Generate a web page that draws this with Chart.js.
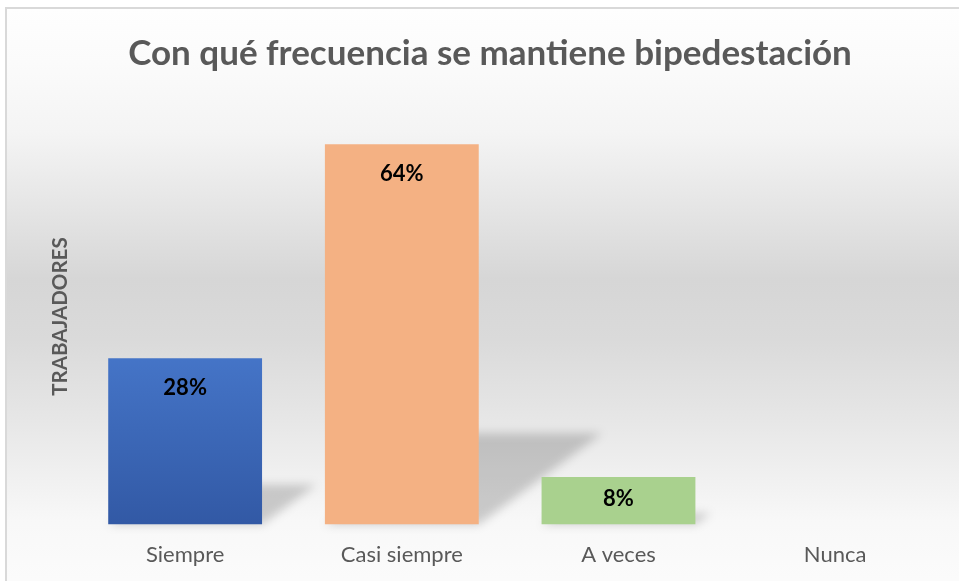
<!DOCTYPE html>
<html>
<head>
<meta charset="utf-8">
<script src="https://cdn.jsdelivr.net/npm/chart.js@4"></script>
<style>
html,body{margin:0;padding:0;overflow:hidden;background:#fff;}
#box{position:absolute;left:5px;top:7px;width:970px;height:590px;border:2px solid #d9d9d9;}
</style>
</head>
<body>
<div id="box"><canvas id="chart" width="964" height="590"></canvas></div>
<script>

// Data
const categories = ["Siempre", "Casi siempre", "A veces", "Nunca"];
const percentages = [28, 64, 8, 0];
const chartTitle = "Con qué frecuencia se mantiene bipedestación";
const axisTitle = "TRABAJADORES";

const canvas = document.getElementById("chart");
const ctx = canvas.getContext("2d");

// blue bar gradient
const blueGrad = ctx.createLinearGradient(0, 345, 0, 515);
blueGrad.addColorStop(0, "#4575c8");
blueGrad.addColorStop(1, "#3259a5");

// background + shadows + labels
const decor = {

    id: "decor",

    beforeDraw(chart){

        const c = chart.ctx;
        const h = chart.height;

        const g = c.createLinearGradient(0, 0, 0, h);
        g.addColorStop(0, "#fefefe");
        g.addColorStop(0.09, "#fbfbfb");
        g.addColorStop(0.21, "#f4f4f4");
        g.addColorStop(0.33, "#e6e6e6");
        g.addColorStop(0.46, "#d6d6d6");
        g.addColorStop(0.56, "#dadada");
        g.addColorStop(0.67, "#e4e4e4");
        g.addColorStop(0.79, "#f0f0f0");
        g.addColorStop(0.87, "#f8f8f8");
        g.addColorStop(1, "#fcfcfc");

        c.save();
        c.fillStyle = g;
        c.fillRect(0, 0, chart.width, h);
        c.restore();
    },

    beforeDatasetsDraw(chart){

        const c = chart.ctx;
        const bars = chart.getDatasetMeta(0).data;

        c.save();
        c.filter = "blur(5px)";
        c.fillStyle = "rgba(0,0,0,0.18)";

        bars.forEach(function(bar){

            const hgt = bar.base - bar.y;
            if(hgt <= 0) return;

            const dy = hgt * 0.24;
            const dx = dy * 1.35;
            const left = bar.x - bar.width / 2;
            const right = bar.x + bar.width / 2;

            c.beginPath();
            c.moveTo(left, bar.base);
            c.lineTo(right, bar.base);
            c.lineTo(right + dx, bar.base - dy);
            c.lineTo(left + dx, bar.base - dy);
            c.closePath();
            c.fill();
        });

        c.restore();
    },

    afterDatasetsDraw(chart){

        const c = chart.ctx;
        const bars = chart.getDatasetMeta(0).data;

        c.save();
        c.font = "bold 22px Lato";
        c.fillStyle = "#000";
        c.textAlign = "center";
        c.textBaseline = "middle";

        bars.forEach(function(bar, i){

            const v = percentages[i];
            if(!v) return;

            const off = Math.min(30, (bar.base - bar.y) / 2 - 2);

            c.fillText(v + "%", bar.x, bar.y + off);
        });

        c.restore();
    }
};

new Chart(

    canvas,

    {

        type:"bar",

        data:{

            labels:categories,

            datasets:[{

                data:percentages,

                backgroundColor:[
                    blueGrad,
                    "#f4b183",
                    "#a9d18e",
                    "#a5a5a5"
                ],

                borderWidth:0,

                categoryPercentage:1,

                barPercentage:0.71
            }]
        },

        options:{

            responsive:false,

            animation:false,

            layout:{
                padding:{
                    left:29.5,
                    right:27.5,
                    top:0,
                    bottom:22
                }
            },

            plugins:{

                legend:{display:false},

                tooltip:{enabled:false},

                title:{

                    display:true,

                    text:chartTitle,

                    color:"#595959",

                    font:{
                        family:"Lato",
                        size:35,
                        weight:"bold"
                    },

                    padding:{
                        top:23.5,
                        bottom:34
                    }
                }
            },

            scales:{

                x:{

                    grid:{display:false},

                    border:{display:false},

                    ticks:{
                        color:"#595959",
                        padding:9,
                        font:{
                            family:"Lato",
                            size:22
                        }
                    }
                },

                y:{

                    min:0,

                    max:70,

                    grid:{
                        display:false,
                        drawTicks:false
                    },

                    border:{display:false},

                    ticks:{display:false},

                    title:{

                        display:true,

                        text:axisTitle,

                        color:"#595959",

                        font:{
                            family:"Lato",
                            size:20.5,
                            weight:"bold"
                        },

                        padding:{
                            top:11.2,
                            bottom:4.5
                        }
                    }
                }
            }
        },

        plugins:[decor]
    }
);
</script>
</body>
</html>
